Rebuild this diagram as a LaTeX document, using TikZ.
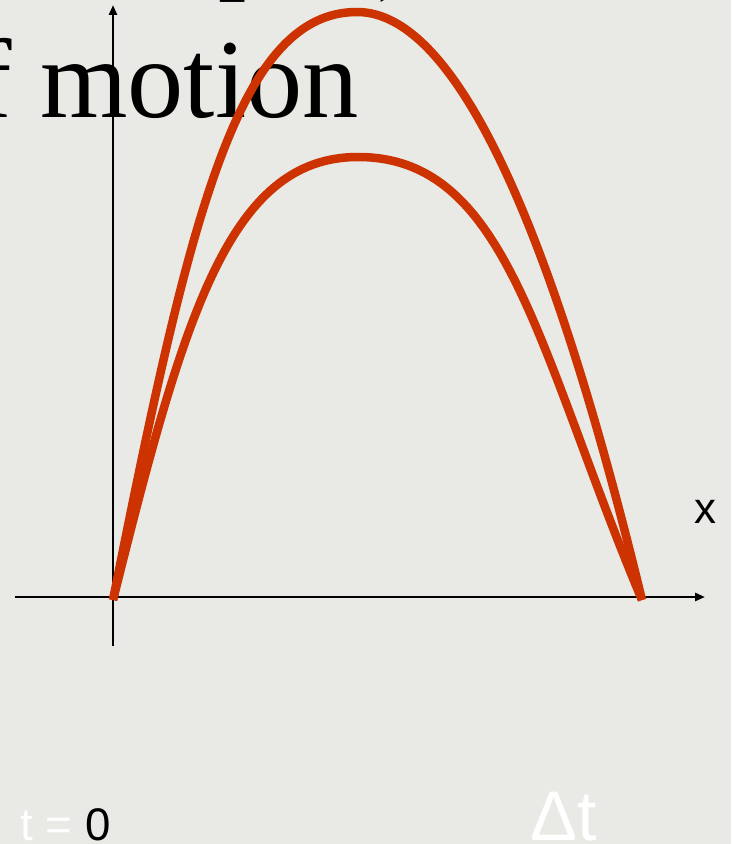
\documentclass[tikz,border=0pt]{standalone}
\usepackage{fontspec}
\setmainfont{Liberation Serif}
\setsansfont{Liberation Sans}
\usepackage{xcolor}
\usepackage{tikz}
\usetikzlibrary{arrows.meta}
\definecolor{paper}{HTML}{E9E9E6}
\definecolor{trajred}{HTML}{CC3300}

\begin{document}
\begin{tikzpicture}[
        x=0.02cm, y=-0.02cm,
        traj/.style={line width=0.17cm, draw=trajred},
        axis/.style={line width=0.055cm, black, -{Triangle[length=2mm, width=1.6mm]}},
        heading/.style={anchor=base west, inner sep=0pt, font=\fontsize{64}{77}\selectfont},
        axislabel/.style={inner sep=0pt, font=\sffamily\fontsize{25}{30}\selectfont},
        timelabel/.style={anchor=base west, inner sep=0pt, font=\sffamily\fontsize{26}{31}\selectfont}
    ]
        \useasboundingbox (0,0) rectangle (731,844);
        \fill[paper] (0,0) rectangle (731,844);
        \clip (0,0) rectangle (731,844);

        % title lines, cut off by the frame
        \node[heading] (tp) at (218,-21) {p};
        \node[heading] (tb) at (377,-21) {)};
        \node[heading] (tm) at (-82,118) {of motion};

        % axes
        \coordinate (ybot) at (113,646);
        \coordinate (ytop) at (113,5);
        \coordinate (xleft) at (15,597);
        \coordinate (xright) at (705,597);
        \draw[axis] (ybot) -- (ytop);
        \draw[axis] (xleft) -- (xright);
        \node[axislabel, anchor=base] (xl) at (705,523) {x};

        % trajectories
        \coordinate (start) at (113,600);
        \coordinate (land) at (642,600);
        \coordinate (high) at (357,12);
        \coordinate (low) at (358,157);
        \draw[traj] (start) .. controls (189,220) and (237,12) .. (high)
                            .. controls (452,12) and (547,208) .. (land);
        \draw[traj] (start) .. controls (183,320) and (228,157) .. (low)
                            .. controls (508,157) and (537,350) .. (land);

        % time labels
        \node[timelabel] (t0) at (20,840) {\textcolor{white}{t = }0};
        \node[timelabel, white, font=\sffamily\fontsize{40}{48}\selectfont] (dt) at (530,840) {Δt};
    \end{tikzpicture}
\end{document}
